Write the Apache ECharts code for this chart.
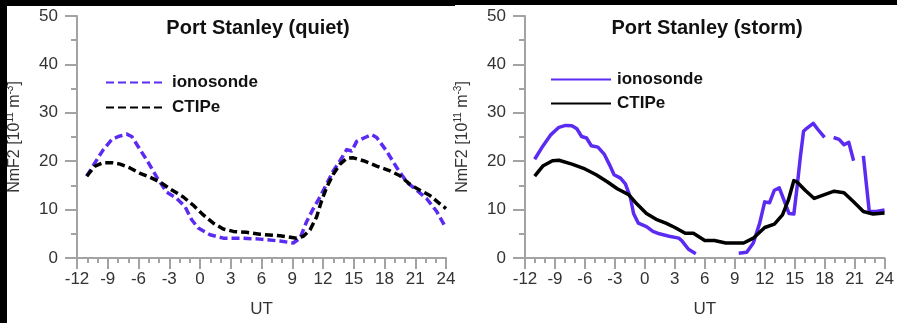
<!DOCTYPE html>
<html>
<head>
<meta charset="utf-8">
<script src="https://cdn.jsdelivr.net/npm/echarts@6/dist/echarts.min.js"></script>
<style>html,body{margin:0;padding:0;background:#fff;}#c{width:897px;height:323px;}</style>
</head>
<body>
<div id="c"></div>
<script>
// ---- data (UT hours, NmF2 in 1e11 m^-3) ----
var quietIonoHours = [-11.05,-10.24,-9.43,-8.6,-7.97,-7.15,-6.66,-5.85,-5.04,-4.22,-3.25,-2.27,-1.46,-0.81,-0.17,0.98,2.27,4.22,5.85,7.8,9.1,9.76,10.4,11.05,11.7,12.36,13.0,13.66,14.31,14.8,15.29,16.1,16.75,17.24,18.2,19.19,20.17,21.14,22.1,23.1,24.0];
var quietIonoValues = [16.9,19.7,22.4,24.5,25.1,25.6,25.1,22.4,19.7,16.7,13.6,12.3,10.6,7.9,6.2,4.8,4.1,4.1,3.9,3.5,3.1,4.1,7.5,10.2,12.6,15.3,18.0,20.1,22.4,22.1,24.1,24.9,25.5,24.9,22.1,18.7,15.7,14.0,12.3,9.6,6.2];

var quietCtipeHours = [-11.05,-10.24,-9.43,-8.6,-7.8,-6.83,-5.85,-4.88,-3.9,-2.93,-1.63,-0.65,0.32,1.3,2.27,3.25,4.55,5.85,7.8,9.43,10.08,10.73,11.38,11.87,12.36,13.0,13.66,14.31,14.96,15.94,17.24,18.54,19.51,20.49,21.46,22.44,23.41,24.0];
var quietCtipeValues = [16.9,19.0,19.7,19.7,19.4,18.6,17.5,16.7,15.7,14.3,12.6,10.9,8.9,7.2,6.0,5.5,5.3,4.9,4.6,4.1,4.5,5.8,8.5,11.9,14.6,17.3,19.4,20.6,20.7,20.1,19.0,18.0,17.0,15.2,14.0,12.9,11.2,10.2];

var stormIonoHours = [-11.03,-10.22,-9.4,-8.6,-7.94,-7.3,-6.81,-6.33,-5.84,-5.36,-4.7,-4.05,-3.57,-3.08,-2.44,-1.95,-1.46,-1.13,-0.65,0.16,0.81,1.45,2.43,3.4,3.73,4.37,5.1,7.0,9.4,10.2,10.86,11.5,12.0,12.48,12.97,13.46,13.94,14.43,14.92,15.24,15.56,15.89,16.21,16.86,17.35,17.99,18.4,18.9,19.45,19.94,20.42,20.9,21.4,21.88,22.47,23.18,24.0];
var stormIonoValues = [20.4,23.1,25.5,27.0,27.4,27.3,26.7,25.1,24.8,23.2,22.9,21.4,19.4,17.2,16.5,15.3,12.6,9.2,7.2,6.5,5.5,5.0,4.5,4.1,3.5,1.8,0.9,null,1.0,1.2,3.1,7.2,11.6,11.4,14.0,14.5,11.9,9.2,9.1,14.6,20.7,26.2,26.8,27.8,26.5,24.9,null,24.9,24.5,23.4,23.9,20.1,null,21.1,9.6,9.6,9.9];

var stormCtipeHours = [-11.03,-10.22,-9.25,-8.6,-7.3,-6.0,-4.87,-3.73,-2.76,-1.62,-0.81,0.16,1.13,2.1,2.91,4.05,4.86,6.0,6.97,8.1,9.89,10.86,12.0,12.97,13.78,14.36,14.92,15.24,16.05,16.96,17.99,18.96,19.94,20.9,21.88,22.85,24.0];
var stormCtipeValues = [16.9,19.0,20.1,20.2,19.4,18.4,17.2,15.7,14.3,13.1,11.2,9.2,8.0,7.2,6.4,5.1,5.1,3.6,3.6,3.1,3.1,4.1,6.3,7.0,8.9,11.9,16.0,15.7,14.0,12.3,13.1,13.8,13.5,11.6,9.6,9.1,9.3];

var panelTitles = ['Port Stanley (quiet)', 'Port Stanley (storm)'];
var seriesNames = ['ionosonde', 'CTIPe'];

function pairs(h, v) { return h.map(function (x, i) { return [x, v[i]]; }); }

var FONT = "'Liberation Sans', Arial, sans-serif";
var PURPLE = '#5b2bf2';
var AXIS = '#a3a3a3';

function xAx(gi) {
  return {
    type: 'value', gridIndex: gi, min: -12, max: 24, interval: 3,
    name: 'UT', nameLocation: 'middle', nameGap: 43,
    nameTextStyle: { fontFamily: FONT, fontSize: 17, color: '#333' },
    axisLine: { show: true, onZero: false, lineStyle: { color: AXIS, width: 2 } },
    axisTick: { show: true, inside: false, length: 11, lineStyle: { color: AXIS, width: 2 } },
    minorTick: { show: true, splitNumber: 3, length: 5, lineStyle: { color: AXIS, width: 2 } },
    axisLabel: { fontFamily: FONT, fontSize: 17, color: '#333', margin: 13, showMaxLabel: true, showMinLabel: true },
    splitLine: { show: false }
  };
}
function yAx(gi) {
  return {
    type: 'value', gridIndex: gi, min: 0, max: 50, interval: 10,
    name: '{a|NmF2 [10}{s|11}{a| m}{s|-3}{a|]}', nameLocation: 'middle', nameGap: 54, nameRotate: 90,
    nameTextStyle: {
      fontFamily: FONT, color: '#333',
      rich: {
        a: { fontFamily: FONT, fontSize: 16, color: '#333', lineHeight: 18, verticalAlign: 'bottom' },
        s: { fontFamily: FONT, fontSize: 10, color: '#333', lineHeight: 18, verticalAlign: 'top' }
      }
    },
    axisLine: { show: true, onZero: false, lineStyle: { color: AXIS, width: 2 } },
    axisTick: { show: true, inside: false, length: 12, lineStyle: { color: AXIS, width: 2 } },
    minorTick: { show: true, splitNumber: 2, length: 6, lineStyle: { color: AXIS, width: 2 } },
    axisLabel: { fontFamily: FONT, fontSize: 17, color: '#333', margin: 19 },
    splitLine: { show: false }
  };
}
function line(name, gi, data, color, dashed) {
  return {
    type: 'line', name: name, xAxisIndex: gi, yAxisIndex: gi, data: data,
    symbol: 'none', smooth: false, connectNulls: false, animation: false,
    lineStyle: { color: color, width: 3.5, type: dashed ? [8, 4] : 'solid', cap: 'butt', join: 'round' },
    itemStyle: { color: color }
  };
}

var chart = echarts.init(document.getElementById('c'), null, { renderer: 'canvas' });
chart.setOption({
  animation: false,
  backgroundColor: '#fff',
  grid: [
    { left: 77, top: 16, width: 369, height: 246 },
    { left: 525, top: 16, width: 370, height: 246 }
  ],
  title: [
    { text: panelTitles[0], left: 258, top: 18, padding: 0, textAlign: 'center',
      textStyle: { fontFamily: FONT, fontSize: 20, fontWeight: 'bold', color: '#111' } },
    { text: panelTitles[1], left: 707, top: 18, padding: 0, textAlign: 'center',
      textStyle: { fontFamily: FONT, fontSize: 20, fontWeight: 'bold', color: '#111' } }
  ],
  legend: [
    { data: [seriesNames[0], seriesNames[1]], orient: 'vertical', left: 105, top: 74, padding: 0,
      itemWidth: 58, itemHeight: 14, itemGap: 8, selectedMode: false,
      itemStyle: { opacity: 0 },
      textStyle: { fontFamily: FONT, fontSize: 17, fontWeight: 'bold', color: '#111', padding: [0, 0, 0, 3] } },
    { data: [seriesNames[0] + ' ', seriesNames[1] + ' '], orient: 'vertical', left: 550, top: 71, padding: 0,
      itemWidth: 60, itemHeight: 14, itemGap: 7, selectedMode: false,
      itemStyle: { opacity: 0 },
      textStyle: { fontFamily: FONT, fontSize: 17, fontWeight: 'bold', color: '#111', padding: [0, 0, 0, 1] } }
  ],
  xAxis: [xAx(0), xAx(1)],
  yAxis: [yAx(0), yAx(1)],
  series: [
    line(seriesNames[0], 0, pairs(quietIonoHours, quietIonoValues), PURPLE, true),
    line(seriesNames[1], 0, pairs(quietCtipeHours, quietCtipeValues), '#000', true),
    line(seriesNames[0] + ' ', 1, pairs(stormIonoHours, stormIonoValues), PURPLE, false),
    line(seriesNames[1] + ' ', 1, pairs(stormCtipeHours, stormCtipeValues), '#000', false)
  ],
  graphic: [
    { type: 'rect', z: 100, shape: { x: 0, y: 0, width: 455, height: 6 }, style: { fill: '#000' } },
    { type: 'rect', z: 100, shape: { x: 455, y: 0, width: 442, height: 5 }, style: { fill: '#000' } },
    { type: 'rect', z: 100, shape: { x: 0, y: 0, width: 7, height: 323 }, style: { fill: '#000' } }
  ]
});
</script>
</body>
</html>
